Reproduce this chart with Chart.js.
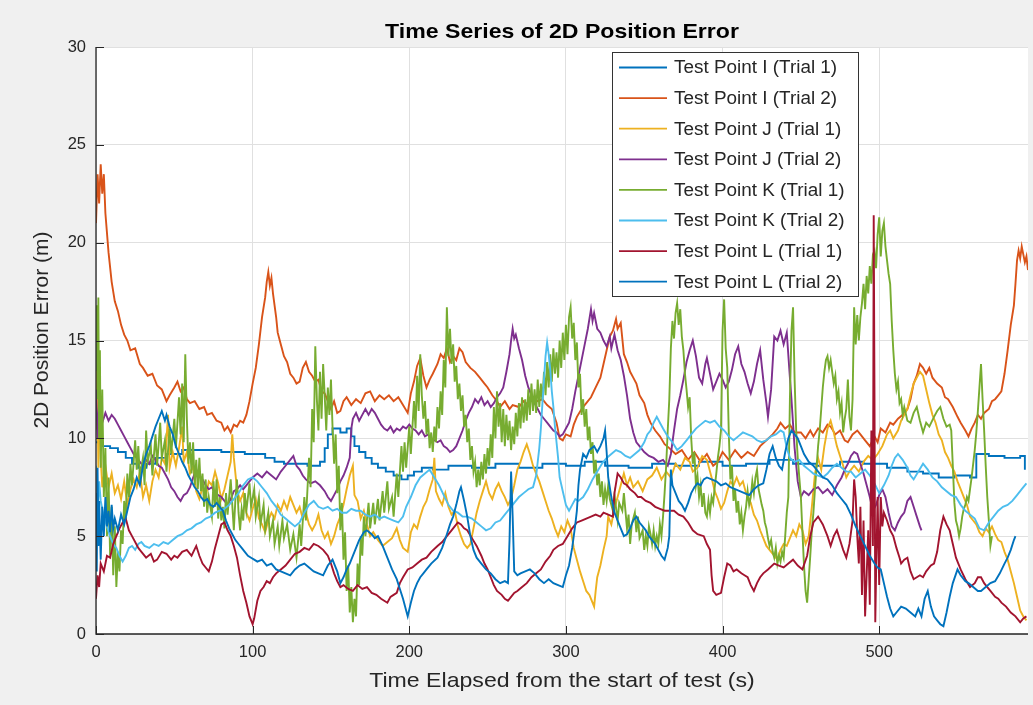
<!DOCTYPE html>
<html>
<head>
<meta charset="utf-8">
<script src="https://cdn.jsdelivr.net/npm/chart.js@4/dist/chart.umd.min.js"></script>
<style>
  html, body { margin: 0; padding: 0; background: #f0f0f0; }
  #wrap { width: 1033px; height: 705px; position: relative; }
  canvas { display: block; }
</style>
</head>
<body>
<div id="wrap"><canvas id="c" width="1033" height="705"></canvas></div>
<script>
// ---- series: [time (s), 2D position error (m)] ----
const pointI1 = [[0,9.8],[4,9.6],[9,9.5],[14,9.3],[19,9.0],[23,8.7],[27,8.5],[32,8.7],[38,9.0],[45,9.2],[55,9.4],[65,9.4],[80,9.3],[95,9.2],[108,9.0],[114,8.8],[120,8.7],[135,8.6],[143,8.8],[146,9.5],[148,10.2],[151,10.5],[156,10.3],[160,10.5],[163,10.1],[165,9.6],[168,9.3],[172,9.0],[176,8.7],[180,8.5],[185,8.3],[190,8.1],[195,7.9],[199,8.1],[203,8.3],[208,8.5],[215,8.4],[225,8.6],[240,8.5],[255,8.7],[270,8.5],[285,8.7],[300,8.6],[312,8.8],[325,8.6],[340,8.5],[355,8.7],[370,8.6],[385,8.8],[400,8.6],[415,8.7],[430,8.9],[445,8.7],[460,8.6],[475,8.8],[490,8.7],[505,8.5],[518,8.3],[528,8.2],[538,8.0],[548,8.1],[558,8.0],[562,9.2],[570,9.1],[580,9.0],[590,9.1],[593,8.4]];

const pointI2 = [[0,21.0],[1,23.5],[2,22.0],[3,24.0],[4,22.5],[5,23.5],[6,21.5],[8,19.5],[10,18.0],[12,17.0],[14,16.5],[16,15.8],[18,15.3],[20,15.0],[22,14.5],[25,14.6],[28,13.8],[30,13.6],[33,13.2],[36,13.3],[39,12.7],[42,12.5],[45,11.9],[47,12.2],[50,12.6],[52,12.9],[54,12.4],[56,12.6],[58,12.0],[60,11.8],[63,11.9],[66,11.5],[69,11.6],[71,11.2],[74,11.3],[77,10.9],[80,10.8],[82,10.4],[84,10.6],[86,10.3],[88,10.7],[90,10.6],[92,10.9],[94,10.8],[96,11.2],[98,11.9],[100,12.8],[102,13.6],[104,14.8],[106,16.2],[108,17.2],[109,18.0],[110,18.5],[111,17.8],[112,18.2],[113,17.4],[115,16.2],[116,15.4],[118,14.8],[120,14.2],[122,13.9],[124,13.3],[126,13.1],[128,12.8],[130,12.9],[132,13.6],[134,13.9],[136,13.4],[138,13.2],[140,12.9],[142,13.0],[144,12.4],[146,12.3],[148,11.9],[150,11.5],[152,11.9],[154,11.3],[156,11.4],[158,11.9],[160,12.1],[163,11.7],[166,12.0],[169,11.8],[172,12.3],[175,12.4],[178,11.9],[181,12.2],[184,12.0],[187,12.2],[190,11.9],[193,12.1],[196,11.7],[199,11.3],[201,12.3],[203,12.9],[205,13.7],[207,14.1],[209,13.2],[211,12.6],[213,13.0],[215,13.3],[218,13.8],[220,14.3],[222,14.1],[224,14.6],[226,13.9],[228,14.2],[230,14.0],[232,14.6],[234,14.4],[236,13.9],[239,13.6],[242,13.4],[245,13.1],[248,12.8],[250,12.6],[253,12.2],[256,11.9],[258,11.6],[261,11.9],[264,11.5],[266,11.7],[270,11.6],[273,11.9],[276,11.7],[279,12.1],[282,11.9],[285,12.0],[288,11.7],[291,11.5],[294,10.8],[296,10.0],[298,9.9],[300,10.2],[303,10.1],[305,10.7],[307,11.1],[310,11.5],[313,11.8],[316,12.1],[319,12.6],[322,13.1],[324,13.8],[326,14.5],[328,15.2],[330,15.5],[332,16.1],[333,15.6],[335,15.9],[337,14.3],[339,13.9],[341,13.4],[343,13.1],[345,12.8],[347,12.2],[350,11.8],[352,11.2],[354,10.8],[357,10.4],[360,10.1],[363,9.7],[366,9.5],[370,9.2],[374,9.4],[378,8.9],[382,9.3],[386,8.8],[390,9.2],[394,8.6],[397,8.8],[400,9.3],[404,8.9],[408,9.4],[412,9.0],[416,9.3],[420,9.1],[424,9.6],[428,9.9],[432,10.2],[435,10.5],[437,10.8],[440,10.5],[443,10.7],[446,10.3],[450,10.3],[453,10.0],[456,10.4],[458,10.1],[461,10.5],[464,10.3],[467,10.7],[469,10.6],[472,10.2],[475,10.4],[478,9.9],[480,9.8],[483,10.2],[486,10.4],[488,10.2],[491,9.9],[494,9.6],[497,10.1],[499,9.8],[501,10.5],[504,10.3],[507,10.8],[509,10.7],[512,11.0],[515,11.2],[518,11.5],[520,12.0],[522,12.8],[524,13.2],[526,13.8],[528,13.6],[530,13.3],[532,13.6],[534,13.1],[537,12.8],[540,12.6],[542,12.1],[544,12.0],[547,11.6],[550,11.1],[552,10.8],[555,10.4],[557,10.1],[559,10.5],[561,10.8],[563,11.2],[565,11.0],[567,11.3],[570,11.5],[572,11.9],[574,12.0],[576,12.2],[578,12.4],[580,13.3],[582,14.5],[584,15.8],[586,16.8],[587,17.9],[588,19.1],[589,19.6],[590,19.2],[591,19.8],[592,19.4],[593,19.0],[594,19.3],[595,18.6]];

const pointJ1 = [[0,10.5],[0.5,15.5],[1,12.0],[1.5,8.5],[2,13.5],[3,9.0],[4,7.5],[6,8.6],[8,7.5],[10,8.2],[12,7.2],[14,7.6],[16,6.9],[18,7.8],[20,6.6],[22,7.4],[24,7.9],[26,7.5],[28,8.3],[30,7.0],[32,7.6],[34,6.8],[36,7.8],[38,8.4],[40,8.0],[42,9.0],[44,8.7],[46,11.2],[47,8.5],[49,9.3],[51,8.6],[53,9.5],[55,10.6],[56,8.8],[58,9.3],[60,8.2],[62,8.6],[64,7.3],[66,6.9],[68,7.5],[70,7.0],[72,7.8],[74,7.6],[76,8.3],[78,7.7],[80,6.9],[82,7.4],[84,8.1],[86,8.8],[87,10.2],[88,9.0],[90,7.4],[92,6.8],[94,7.2],[96,6.2],[98,5.8],[100,6.4],[102,6.9],[104,5.9],[106,5.6],[108,5.2],[110,5.8],[112,6.2],[114,5.9],[116,6.6],[118,6.3],[120,6.8],[122,6.4],[124,7.0],[126,6.6],[128,6.2],[130,6.5],[132,5.9],[134,6.2],[136,5.6],[138,5.3],[140,5.6],[142,6.1],[144,5.3],[146,4.9],[148,5.2],[150,4.6],[152,5.0],[154,5.6],[156,6.0],[158,6.6],[160,7.4],[162,8.1],[164,8.6],[165,7.1],[167,6.8],[169,5.9],[171,6.3],[173,5.6],[175,5.0],[177,5.2],[180,4.8],[183,4.5],[186,4.7],[189,4.9],[192,5.4],[194,4.8],[196,4.4],[199,4.2],[201,5.2],[203,5.6],[205,5.4],[207,6.0],[209,6.5],[211,6.8],[213,7.4],[215,7.9],[216,9.0],[217,7.3],[219,6.9],[221,6.6],[223,7.2],[225,6.5],[227,6.1],[229,6.3],[231,5.5],[233,5.0],[235,4.6],[237,4.4],[239,4.6],[241,5.4],[243,6.2],[245,6.8],[247,7.3],[249,7.8],[251,7.2],[253,6.9],[255,7.4],[257,7.7],[259,7.3],[261,7.0],[263,6.6],[265,6.9],[267,7.6],[269,8.4],[271,8.8],[273,9.3],[275,9.7],[277,9.2],[279,8.6],[281,8.2],[283,7.8],[285,7.3],[287,6.8],[289,6.3],[291,5.9],[293,5.4],[295,5.0],[297,5.5],[299,5.2],[301,5.8],[303,5.4],[305,4.4],[307,3.8],[309,3.2],[311,2.7],[313,2.2],[315,2.0],[317,1.6],[318,1.4],[319,2.2],[320,2.9],[322,3.5],[324,4.3],[326,5.0],[327,6.0],[329,5.6],[331,6.4],[333,7.0],[335,7.6],[337,8.2],[339,7.6],[341,8.0],[343,7.5],[346,7.8],[349,7.3],[352,7.9],[355,8.1],[358,8.5],[361,7.9],[364,8.3],[367,8.0],[370,8.7],[373,8.4],[376,9.0],[379,8.8],[381,8.3],[384,8.5],[387,9.1],[390,8.9],[393,8.0],[395,7.3],[397,6.9],[399,6.4],[401,6.7],[403,7.3],[405,7.8],[407,7.6],[409,8.0],[411,7.6],[413,7.8],[415,7.2],[418,6.7],[420,6.1],[422,5.8],[424,5.3],[426,4.9],[428,4.5],[431,4.2],[433,4.0],[435,3.8],[437,4.3],[439,4.6],[441,4.5],[443,4.9],[445,5.3],[447,5.0],[449,5.6],[451,5.3],[453,4.6],[455,5.0],[457,6.5],[459,8.2],[461,9.0],[463,8.4],[465,9.6],[467,10.5],[469,10.9],[471,10.3],[473,9.6],[475,9.1],[477,8.6],[479,8.0],[481,8.3],[484,8.6],[487,8.3],[490,8.8],[493,9.1],[496,8.9],[499,9.2],[502,9.6],[505,10.2],[507,10.4],[509,10.0],[512,10.4],[514,10.9],[516,11.2],[518,11.5],[520,12.2],[522,12.8],[524,13.1],[526,13.4],[528,13.2],[530,12.5],[532,11.8],[534,11.2],[536,10.8],[538,10.2],[540,9.9],[542,9.3],[544,9.0],[546,8.6],[548,8.3],[550,7.8],[552,7.4],[554,7.0],[556,6.6],[558,6.0],[560,5.8],[562,5.6],[564,5.2],[566,5.0],[568,5.4],[570,5.2],[572,5.5],[574,5.1],[576,4.8],[578,4.7],[580,4.2],[582,3.8],[584,3.2],[586,2.6],[588,1.9],[590,1.2],[592,0.9],[594,0.7]];

const pointJ2 = [[0,12.5],[1,10.0],[2,11.8],[3,11.0],[4,10.8],[6,11.3],[8,10.9],[10,11.2],[12,11.0],[14,10.7],[16,10.4],[18,10.1],[20,9.8],[22,9.5],[24,9.2],[26,9.0],[28,8.8],[30,8.6],[32,8.9],[34,8.7],[36,9.1],[38,8.9],[40,8.6],[42,8.5],[44,8.2],[46,7.9],[48,7.5],[50,7.3],[52,7.0],[54,6.8],[56,7.1],[58,7.2],[60,7.5],[62,8.0],[64,8.4],[66,8.1],[68,7.9],[70,7.6],[72,7.4],[74,7.5],[76,7.2],[78,7.1],[80,7.0],[82,6.8],[84,6.6],[86,6.9],[88,7.3],[90,7.4],[92,7.6],[94,7.4],[96,7.6],[98,7.8],[100,8.0],[103,8.2],[106,8.0],[109,8.3],[112,8.1],[115,7.9],[118,8.3],[121,8.6],[124,8.9],[126,9.1],[128,8.6],[130,8.4],[132,8.1],[134,7.9],[137,7.7],[140,7.8],[143,7.6],[146,7.3],[148,7.0],[150,6.8],[152,7.1],[154,7.4],[156,7.8],[158,8.1],[160,8.5],[162,9.0],[163,10.5],[164,11.0],[166,11.3],[168,10.9],[170,11.2],[172,11.5],[174,11.2],[176,11.5],[178,11.3],[180,11.0],[182,10.7],[184,10.5],[186,10.4],[188,10.6],[190,10.3],[192,10.5],[194,10.4],[196,10.6],[198,10.5],[200,10.7],[202,10.5],[204,10.4],[206,10.2],[208,10.4],[210,10.1],[212,10.2],[214,10.0],[216,9.9],[218,9.8],[220,9.9],[222,9.6],[224,9.5],[226,9.3],[228,9.4],[230,9.6],[232,10.0],[234,10.4],[236,10.9],[238,11.3],[240,11.6],[242,12.0],[244,11.8],[246,12.1],[248,11.7],[250,11.9],[252,11.6],[254,11.8],[256,12.1],[258,12.3],[260,12.6],[262,13.4],[264,14.3],[265,15.0],[266,15.6],[267,15.1],[268,15.3],[270,14.6],[272,14.0],[274,13.2],[276,12.6],[278,12.2],[280,11.8],[282,11.5],[284,11.2],[286,11.0],[288,10.8],[290,10.6],[292,10.4],[294,10.3],[296,10.1],[298,10.2],[300,10.5],[302,10.8],[304,11.5],[306,12.4],[308,13.2],[310,14.0],[312,14.8],[314,15.6],[316,16.6],[317,16.0],[318,16.4],[320,15.6],[322,15.4],[324,15.0],[326,14.7],[328,15.2],[329,14.6],[331,15.3],[333,14.5],[335,14.0],[337,13.2],[339,12.2],[341,11.0],[343,10.3],[345,9.8],[347,9.6],[350,9.3],[353,9.1],[356,9.0],[359,8.8],[362,8.9],[365,8.6],[367,9.2],[369,10.4],[371,11.5],[373,12.2],[375,13.0],[377,13.9],[379,14.5],[381,15.0],[383,14.2],[385,13.1],[387,12.8],[389,13.8],[390,14.1],[392,13.3],[394,12.5],[396,12.9],[398,13.3],[400,13.0],[402,12.6],[404,12.9],[406,13.5],[408,14.3],[410,14.7],[412,13.8],[414,13.4],[416,12.8],[418,12.3],[420,12.9],[422,13.8],[424,14.5],[426,13.0],[428,11.8],[429,11.1],[431,12.5],[433,15.2],[435,15.0],[437,15.5],[439,14.8],[441,15.4],[443,13.1],[444,12.0],[446,9.5],[448,7.8],[450,7.0],[452,7.3],[455,7.1],[458,7.4],[461,7.5],[464,7.2],[467,7.4],[470,7.1],[473,7.6],[476,8.0],[478,8.4],[480,8.7],[482,9.1],[484,9.3],[486,9.2],[488,8.7],[490,8.2],[492,7.6],[494,7.0],[496,6.3],[498,6.6],[500,7.1],[502,7.4],[504,7.0],[506,6.2],[508,5.5],[510,5.3],[512,5.7],[514,6.0],[516,6.2],[518,6.8],[520,7.0],[522,6.5],[524,6.0],[526,5.5],[527,5.3]];

const pointK1 = [[0,13.5],[0.5,16.8],[1,12.0],[1.5,17.2],[2,10.0],[2.5,14.5],[3,8.5],[4,12.5],[5,7.0],[6,9.5],[7,5.0],[8,8.0],[9,4.0],[10,6.5],[11,3.0],[12,5.5],[13,2.4],[14,4.2],[15,3.2],[16,5.3],[17,4.6],[18,6.8],[19,5.8],[20,8.2],[21,7.0],[22,8.7],[23,7.6],[25,9.9],[26,8.4],[27,9.6],[28,8.0],[30,9.0],[31,7.6],[32,10.4],[33,8.8],[35,9.6],[36,8.1],[38,10.2],[39,8.6],[41,10.8],[42,9.0],[44,9.9],[45,8.3],[47,10.5],[48,9.2],[50,11.0],[51,9.5],[53,12.1],[54,10.2],[55,12.8],[56,9.8],[57,14.3],[58,11.0],[59,8.7],[60,9.8],[61,8.2],[62,9.8],[63,7.6],[64,8.9],[65,7.4],[66,9.0],[67,7.3],[68,8.2],[69,6.5],[70,7.9],[71,6.2],[72,7.0],[74,6.0],[75,7.8],[76,6.5],[77,7.9],[78,5.9],[79,7.0],[80,5.8],[81,6.5],[82,5.4],[83,7.2],[84,6.1],[86,7.9],[87,6.6],[88,5.3],[89,6.9],[90,7.9],[91,6.2],[92,5.3],[93,6.4],[94,5.8],[95,7.2],[96,6.3],[98,7.7],[99,6.5],[101,7.4],[102,6.0],[104,7.0],[105,5.6],[107,6.6],[108,5.3],[110,6.2],[111,5.0],[113,5.8],[114,4.6],[116,5.5],[117,4.5],[119,5.8],[120,4.9],[122,5.6],[124,4.3],[126,5.1],[128,3.9],[130,5.6],[131,4.5],[133,7.0],[134,5.8],[136,9.0],[137,7.5],[138,11.5],[139,9.8],[140,14.7],[141,12.0],[142,10.4],[143,13.4],[144,11.0],[145,13.8],[146,12.2],[147,10.4],[148,12.6],[149,11.2],[150,13.0],[151,10.6],[152,8.7],[153,10.2],[154,7.2],[155,8.6],[156,5.3],[157,6.7],[158,3.8],[159,5.2],[160,2.2],[161,3.5],[162,1.1],[163,2.4],[164,0.6],[165,1.8],[166,0.9],[167,3.6],[168,2.5],[169,5.0],[170,4.0],[171,6.0],[172,5.0],[174,6.7],[175,5.4],[177,6.7],[178,5.6],[180,6.9],[181,5.8],[183,7.3],[184,6.2],[186,7.8],[187,6.4],[189,7.0],[190,6.0],[192,8.2],[193,7.0],[195,9.6],[196,8.3],[197,9.8],[198,8.5],[200,10.6],[201,9.2],[203,11.9],[204,10.5],[205,13.2],[206,11.4],[207,14.3],[208,12.2],[209,11.0],[210,11.9],[211,10.2],[212,11.0],[213,9.5],[214,10.3],[215,9.3],[216,10.6],[217,9.8],[218,11.6],[219,10.5],[220,12.4],[221,11.2],[222,14.0],[223,12.6],[224,16.7],[225,14.2],[226,15.6],[227,13.8],[228,14.8],[229,12.9],[230,13.7],[231,12.0],[232,12.8],[233,11.4],[234,12.2],[235,10.6],[236,11.2],[237,9.8],[238,10.5],[239,8.9],[240,9.6],[241,8.3],[242,8.8],[243,7.5],[244,8.4],[245,7.6],[246,8.8],[247,7.9],[248,9.2],[249,8.2],[250,9.5],[251,8.6],[252,10.2],[253,9.0],[254,11.6],[255,10.0],[256,12.4],[257,10.6],[258,11.8],[259,9.8],[260,11.5],[261,9.6],[262,11.2],[263,9.9],[264,10.9],[265,9.4],[266,10.6],[267,9.7],[268,11.3],[269,10.1],[270,11.8],[271,10.5],[272,12.1],[273,10.8],[274,12.0],[275,10.9],[276,12.5],[277,11.2],[278,12.8],[279,11.4],[280,12.5],[281,11.3],[282,13.0],[283,11.6],[284,12.8],[285,11.9],[286,13.4],[287,12.2],[288,13.9],[289,12.6],[290,14.3],[291,12.9],[292,14.6],[293,13.3],[294,14.4],[295,13.1],[296,15.0],[297,13.6],[298,15.4],[299,14.0],[300,15.8],[301,14.3],[302,16.2],[303,16.7],[304,15.1],[305,15.9],[306,14.0],[307,14.9],[308,12.6],[309,13.3],[310,11.2],[311,12.0],[312,10.6],[313,11.5],[314,9.9],[315,10.6],[316,9.2],[317,9.8],[318,8.2],[319,8.9],[320,7.6],[321,8.2],[322,7.0],[323,7.8],[324,6.6],[325,7.4],[326,6.8],[327,7.6],[328,6.9],[330,6.3],[331,7.1],[333,5.8],[334,6.7],[336,6.3],[337,7.2],[339,5.4],[340,6.1],[341,4.6],[342,5.6],[344,6.2],[345,5.2],[346,6.0],[347,4.9],[349,5.3],[350,4.3],[351,5.0],[352,4.5],[353,5.5],[354,5.1],[355,4.6],[356,5.3],[357,4.5],[358,5.0],[359,4.6],[360,5.6],[361,5.0],[362,6.0],[363,7.2],[364,8.6],[365,10.4],[366,12.0],[367,14.6],[368,16.0],[369,15.1],[370,16.4],[371,16.9],[372,15.8],[373,16.6],[374,15.2],[375,14.5],[376,13.3],[377,12.5],[378,11.6],[379,12.1],[380,10.0],[381,8.7],[382,9.3],[383,7.6],[384,8.1],[385,7.0],[386,7.6],[387,6.5],[388,7.2],[389,6.2],[390,6.0],[391,6.8],[392,6.2],[393,7.0],[394,6.7],[395,7.5],[396,8.2],[397,9.0],[398,9.6],[399,10.4],[400,15.5],[401,17.1],[402,14.6],[403,13.6],[404,10.2],[405,7.9],[406,8.6],[407,6.8],[408,7.4],[409,6.2],[410,6.8],[411,5.6],[412,6.2],[413,5.3],[414,6.0],[415,6.5],[416,7.3],[417,6.6],[418,7.0],[419,7.8],[420,7.2],[421,8.0],[422,8.4],[423,7.4],[424,7.0],[425,6.6],[426,6.3],[427,5.7],[428,5.4],[429,4.9],[430,4.5],[431,4.8],[432,4.2],[433,3.9],[434,4.4],[435,3.6],[436,4.0],[437,3.7],[438,4.2],[439,3.9],[440,5.0],[441,6.2],[442,7.0],[443,12.0],[444,15.5],[445,16.7],[446,13.0],[447,10.4],[448,9.0],[449,8.0],[450,7.0],[451,5.2],[452,3.5],[453,2.2],[454,1.6],[455,2.8],[456,4.0],[457,5.3],[458,6.2],[459,7.4],[460,8.5],[461,9.6],[462,10.4],[463,11.5],[464,12.6],[465,13.4],[466,14.0],[467,14.2],[468,13.6],[469,14.0],[470,13.4],[471,12.8],[472,13.2],[473,12.0],[474,12.4],[475,11.3],[476,11.8],[477,10.3],[478,11.0],[479,11.5],[480,13.0],[481,11.1],[482,10.4],[483,12.0],[484,16.7],[485,14.8],[486,16.3],[487,15.0],[488,16.2],[489,16.9],[490,17.9],[491,16.6],[492,18.3],[493,17.4],[494,18.8],[495,17.9],[496,19.4],[497,19.6],[498,18.7],[499,20.4],[500,21.3],[501,19.3],[502,20.6],[503,21.0],[504,19.8],[505,19.1],[506,18.4],[507,17.9],[508,16.0],[509,14.5],[510,13.3],[511,12.5],[512,12.9],[513,11.8],[514,12.0],[515,11.2],[516,11.6],[518,10.9],[520,10.8],[522,11.3],[524,11.6],[526,10.9],[528,10.3],[530,10.8],[532,10.6],[535,11.1],[537,11.4],[539,11.6],[541,11.0],[543,10.6],[545,10.7],[546,10.4],[547,8.6],[548,6.7],[549,5.8],[550,5.5],[551,5.0],[552,5.4],[553,6.0],[554,6.4],[555,6.6],[556,7.0],[557,6.8],[558,7.4],[559,8.0],[560,8.7],[561,9.4],[562,10.3],[563,11.4],[564,12.6],[565,13.8],[566,12.0],[567,10.4],[568,8.6],[569,7.0],[570,5.8],[571,4.5],[572,5.0]];

const pointK2 = [[0,8.6],[1,6.2],[2,7.8],[3,6.8],[5,6.0],[7,5.5],[9,5.0],[11,4.6],[13,4.4],[15,4.0],[17,3.7],[19,4.0],[21,4.4],[23,4.5],[25,4.3],[27,4.6],[29,4.7],[31,4.5],[34,4.4],[37,4.6],[40,4.5],[43,4.7],[46,4.6],[49,4.8],[52,5.0],[55,5.1],[58,5.3],[61,5.4],[64,5.6],[67,5.7],[70,5.9],[73,6.0],[76,6.2],[79,6.3],[82,6.4],[85,6.6],[88,6.9],[91,7.2],[94,7.6],[97,7.9],[100,8.0],[103,7.8],[106,7.5],[109,7.2],[112,6.8],[115,6.5],[118,6.1],[121,5.9],[124,5.7],[127,5.5],[130,5.7],[133,6.2],[136,6.6],[139,6.8],[142,6.5],[145,6.4],[148,6.5],[151,6.3],[154,6.4],[157,6.2],[160,6.2],[163,6.4],[166,6.3],[169,6.3],[172,6.1],[175,6.0],[178,6.1],[181,5.9],[184,6.0],[187,5.9],[190,5.8],[193,5.7],[196,6.0],[198,6.5],[201,7.0],[204,7.6],[207,8.0],[210,8.2],[213,8.4],[216,8.0],[219,7.6],[222,7.1],[225,6.6],[228,6.3],[231,6.2],[234,6.0],[237,6.0],[240,5.9],[243,5.7],[246,5.5],[249,5.3],[252,5.4],[255,5.7],[258,5.8],[261,6.1],[264,6.4],[267,6.7],[270,7.0],[273,7.2],[276,7.4],[279,7.5],[281,8.1],[283,9.5],[284,10.5],[285,11.8],[286,13.0],[287,14.2],[288,14.9],[289,14.3],[290,13.5],[291,12.4],[292,11.6],[293,10.6],[294,9.8],[295,9.0],[296,8.0],[298,7.3],[300,6.6],[302,6.3],[304,6.6],[306,6.9],[308,6.8],[311,7.0],[314,7.4],[317,7.9],[320,8.3],[323,8.7],[326,9.0],[329,9.2],[332,9.4],[335,9.3],[338,9.1],[341,9.0],[344,9.2],[347,9.4],[350,9.8],[352,10.2],[354,10.4],[356,10.8],[358,11.1],[360,10.8],[362,10.5],[365,10.1],[368,9.8],[371,9.4],[374,9.6],[377,9.9],[380,10.2],[383,10.5],[386,10.7],[389,10.9],[392,10.8],[395,10.9],[398,10.6],[401,10.4],[404,10.1],[407,9.9],[410,10.1],[413,10.3],[416,10.2],[419,10.1],[422,9.9],[425,9.8],[428,9.9],[431,10.1],[434,10.2],[437,10.4],[439,10.3],[441,9.5],[443,9.0],[446,8.8],[449,8.9],[452,8.6],[455,8.4],[458,8.2],[461,8.1],[464,8.0],[467,8.2],[470,8.5],[473,8.7],[476,8.5],[479,8.3],[482,8.3],[485,8.0],[488,8.2],[491,8.4],[494,8.1],[497,7.7],[500,7.2],[503,7.6],[506,8.1],[508,8.6],[510,9.0],[512,9.2],[515,8.9],[518,8.5],[520,8.1],[522,7.9],[525,8.3],[528,8.7],[531,8.4],[534,8.0],[537,7.8],[540,7.5],[543,7.3],[546,7.1],[549,7.0],[552,6.6],[555,6.3],[558,6.1],[561,5.9],[564,5.4],[567,5.3],[570,5.7],[573,6.0],[576,6.3],[579,6.5],[582,6.6],[585,6.8],[588,7.1],[591,7.4],[594,7.7]];

const pointL1 = [[0,1.8],[1,3.0],[2,2.4],[3,3.6],[5,3.2],[7,4.0],[9,3.9],[11,4.6],[13,5.0],[15,5.4],[17,5.7],[19,5.9],[21,5.3],[23,5.0],[25,4.7],[27,4.4],[29,4.2],[32,3.9],[35,4.1],[37,3.7],[39,3.8],[42,4.2],[45,4.1],[48,3.8],[50,4.0],[52,3.9],[55,4.2],[58,4.3],[61,4.0],[64,4.5],[66,4.0],[68,3.6],[70,3.4],[72,3.2],[74,3.7],[76,4.4],[78,5.0],[80,5.6],[82,5.7],[84,5.3],[86,5.0],[88,4.5],[90,3.9],[92,3.0],[94,2.2],[96,1.6],[98,0.9],[100,0.5],[101,0.8],[103,1.7],[105,2.2],[107,2.4],[109,2.7],[111,2.6],[113,2.9],[115,3.1],[118,3.3],[121,3.5],[124,3.8],[127,4.1],[130,4.2],[133,4.4],[136,4.3],[139,4.6],[142,4.5],[145,4.3],[148,4.0],[150,3.6],[152,3.1],[154,2.7],[156,2.4],[158,2.5],[161,2.3],[164,2.2],[167,2.5],[170,2.3],[173,2.4],[176,2.1],[179,2.0],[182,1.8],[184,1.7],[186,1.6],[188,1.9],[190,2.0],[192,2.1],[194,2.6],[196,2.9],[199,3.3],[202,3.4],[205,3.6],[208,3.8],[211,3.9],[214,4.2],[218,4.5],[221,4.7],[224,5.0],[227,5.3],[229,5.5],[231,5.7],[233,5.6],[235,5.4],[237,5.3],[240,4.9],[243,4.5],[246,4.0],[248,3.6],[250,3.3],[252,2.9],[254,2.5],[256,2.2],[259,2.0],[261,1.8],[263,1.7],[265,1.9],[267,2.1],[269,2.2],[272,2.4],[275,2.6],[278,2.9],[281,3.1],[284,3.3],[287,3.7],[290,4.0],[292,4.3],[295,4.5],[298,4.6],[301,5.0],[304,5.4],[307,5.7],[310,5.8],[313,5.9],[316,6.0],[319,6.1],[322,6.0],[324,6.2],[327,6.1],[330,6.0],[331,7.2],[333,8.2],[335,8.0],[337,7.7],[339,7.6],[341,7.4],[344,7.2],[346,7.0],[348,7.0],[351,6.8],[354,6.7],[357,6.5],[360,6.4],[363,6.3],[366,6.3],[369,6.3],[372,6.1],[375,6.0],[378,5.7],[381,5.3],[384,5.1],[388,5.0],[390,4.6],[392,4.3],[393,3.0],[394,2.2],[396,2.0],[399,2.1],[401,2.9],[403,3.6],[405,3.5],[407,3.2],[409,3.3],[412,3.1],[414,3.0],[416,2.9],[418,2.5],[420,2.2],[422,2.6],[424,2.9],[426,3.1],[429,3.3],[433,3.6],[436,3.5],[439,3.4],[442,3.6],[445,3.8],[448,3.5],[451,3.3],[454,4.0],[456,5.0],[458,5.7],[461,6.0],[464,5.6],[467,5.0],[469,4.5],[471,5.0],[473,5.3],[475,4.8],[477,4.3],[479,3.9],[481,4.6],[483,5.8],[484,7.9],[485,7.0],[486,5.0],[487,3.6],[488,6.5],[489,2.0],[490,5.8],[491,0.9],[492,3.0],[493,5.3],[494,1.5],[495,10.4],[496,4.5],[496.5,21.4],[497,12.0],[497.5,0.6],[498,3.0],[499,7.0],[500,2.5],[501,7.0],[502,5.5],[503,6.2],[505,5.8],[507,5.3],[509,5.0],[511,4.4],[513,3.9],[514,3.6],[516,3.8],[518,3.9],[520,3.2],[522,2.8],[524,2.9],[526,3.0],[528,2.9],[530,3.2],[533,3.5],[535,3.6],[537,4.2],[539,5.3],[541,6.0],[543,5.6],[545,5.3],[547,4.6],[549,3.9],[552,3.3],[555,2.8],[558,2.4],[561,2.6],[563,2.9],[565,2.9],[567,2.6],[569,2.4],[571,2.2],[574,1.9],[576,1.8],[578,1.6],[581,1.4],[584,1.1],[587,0.9],[590,0.6],[592,0.8],[594,0.9]];

const pointL2 = [[0,7.2],[0.5,3.2],[1,8.5],[1.5,4.5],[2,6.8],[3,3.8],[4,6.5],[5,5.0],[6,7.0],[7,5.5],[8,6.3],[9,5.2],[10,6.6],[11,5.4],[12,5.9],[14,5.3],[16,6.1],[18,5.6],[20,6.3],[22,7.0],[24,7.4],[26,8.0],[28,7.6],[30,8.6],[32,9.2],[34,9.6],[36,10.1],[38,10.6],[40,11.0],[42,11.4],[44,10.9],[45,11.2],[47,10.6],[49,10.2],[51,9.6],[53,9.2],[55,8.8],[57,8.5],[59,8.1],[61,7.8],[63,7.5],[65,7.3],[67,7.0],[69,6.8],[71,6.9],[73,6.6],[75,6.5],[77,6.7],[79,6.5],[81,6.3],[83,5.8],[85,5.4],[87,5.1],[89,4.8],[91,4.6],[93,4.4],[95,4.2],[97,4.0],[99,3.9],[101,3.8],[103,3.7],[106,3.8],[109,3.5],[112,3.6],[115,3.3],[118,3.2],[121,3.1],[124,3.0],[127,3.3],[130,3.5],[133,3.6],[136,3.4],[139,3.2],[142,3.1],[145,3.0],[148,3.5],[151,3.8],[154,3.2],[156,2.6],[158,2.9],[160,3.3],[162,3.6],[165,4.2],[168,4.8],[171,5.2],[173,5.3],[176,5.1],[178,4.9],[180,5.0],[183,4.5],[186,3.9],[189,3.3],[192,2.8],[194,2.3],[196,1.8],[198,1.2],[199,0.9],[201,1.6],[203,2.2],[205,2.6],[207,2.9],[209,3.1],[211,3.3],[214,3.6],[218,3.9],[221,4.4],[224,5.1],[226,5.6],[228,6.0],[230,6.6],[232,7.3],[233,7.5],[235,6.8],[237,6.0],[239,5.0],[241,4.3],[243,3.9],[246,3.6],[249,3.3],[252,3.1],[255,2.8],[258,2.6],[261,2.7],[263,2.6],[264,4.8],[265,8.3],[266,6.0],[267,3.2],[269,3.0],[271,3.1],[274,3.2],[277,3.3],[280,3.1],[283,2.8],[286,2.6],[289,2.8],[292,2.6],[295,2.5],[298,2.4],[300,3.0],[302,3.5],[304,4.4],[306,5.6],[307,6.3],[308,7.6],[309,8.4],[311,9.2],[313,9.0],[315,9.4],[318,9.6],[320,9.3],[322,9.6],[324,10.0],[325,10.4],[326,9.3],[327,8.0],[329,7.0],[331,6.2],[333,5.8],[335,5.4],[337,5.0],[339,5.1],[341,5.4],[343,5.8],[345,6.0],[347,5.7],[349,5.5],[351,5.3],[353,5.0],[355,4.8],[357,4.6],[359,4.3],[361,4.0],[363,3.8],[365,4.4],[366,5.0],[367,8.4],[368,7.6],[370,7.2],[372,6.8],[374,6.6],[376,6.3],[378,6.7],[380,7.2],[382,7.5],[384,7.7],[386,7.6],[388,7.9],[390,8.0],[393,7.9],[396,7.8],[399,7.6],[402,7.7],[405,7.5],[408,7.4],[411,7.3],[414,7.2],[417,7.1],[420,7.4],[423,7.6],[426,7.7],[428,8.4],[430,9.2],[432,9.6],[434,9.0],[436,8.6],[438,8.4],[440,9.3],[442,10.0],[444,10.4],[446,10.2],[448,10.0],[450,9.6],[452,9.2],[455,8.8],[458,8.6],[461,8.3],[464,8.0],[467,7.9],[470,7.6],[473,7.2],[476,6.9],[479,6.6],[482,6.1],[485,5.5],[488,5.0],[491,4.5],[494,4.0],[497,3.6],[499,3.4],[501,3.3],[503,2.6],[505,1.9],[507,1.3],[509,0.9],[511,1.1],[514,1.4],[517,1.3],[520,1.1],[523,0.9],[525,1.3],[527,0.9],[529,1.8],[531,2.2],[533,1.4],[535,0.9],[537,0.7],[539,0.5],[541,0.4],[543,1.1],[545,1.9],[547,2.6],[550,3.3],[552,3.0],[555,2.7],[557,2.6],[560,2.4],[563,2.2],[565,2.2],[568,2.4],[571,2.6],[574,2.7],[577,3.1],[580,3.6],[582,3.9],[584,4.3],[586,4.8],[587,5.0]];

const seriesLabels = ['Test Point I (Trial 1)', 'Test Point I (Trial 2)', 'Test Point J (Trial 1)', 'Test Point J (Trial 2)',
                      'Test Point K (Trial 1)', 'Test Point K (Trial 2)', 'Test Point L (Trial 1)', 'Test Point L (Trial 2)'];
const seriesData = [pointI1, pointI2, pointJ1, pointJ2, pointK1, pointK2, pointL1, pointL2];
const seriesColors = ['#0072BD', '#D95319', '#EDB120', '#7E2F8E', '#77AC30', '#4DBEEE', '#A2142F', '#0072BD'];
const xTicks = [0, 100, 200, 300, 400, 500];
const yTicks = [0, 5, 10, 15, 20, 25, 30];

const FONT = '"Liberation Sans", Arial, Helvetica, sans-serif';
const INK = '#262626';

function stretchText(ctx, text, x, y, sx) {
  ctx.save();
  ctx.translate(x, y);
  ctx.scale(sx, 1);
  ctx.fillText(text, 0, 0);
  ctx.restore();
}

// figure background + white axes area
const backdrop = {
  id: 'backdrop',
  beforeDraw(chart) {
    const { ctx, chartArea: a } = chart;
    ctx.save();
    ctx.fillStyle = '#f0f0f0';
    ctx.fillRect(0, 0, chart.width, chart.height);
    ctx.fillStyle = '#ffffff';
    ctx.fillRect(a.left, a.top, a.right - a.left, a.bottom - a.top);
    ctx.restore();
  }
};

// axis lines, inward ticks, legend box, title and axis labels
const decor = {
  id: 'decor',
  afterDatasetsDraw(chart) {
    const { ctx, chartArea: a, scales } = chart;
    ctx.save();
    ctx.strokeStyle = INK;
    ctx.lineWidth = 1.3;
    ctx.beginPath();
    ctx.moveTo(a.left, a.top); ctx.lineTo(a.left, a.bottom); ctx.lineTo(a.right, a.bottom);
    ctx.stroke();
    ctx.lineWidth = 1;
    ctx.beginPath();
    yTicks.forEach(v => { const y = Math.round(scales.y.getPixelForValue(v)) + 0.5; ctx.moveTo(a.left, y); ctx.lineTo(a.left + 8, y); });
    xTicks.forEach(v => { const x = Math.round(scales.x.getPixelForValue(v)) + 0.5; ctx.moveTo(x, a.bottom); ctx.lineTo(x, a.bottom - 8); });
    ctx.stroke();

    // legend
    const lx = 612.5, ly = 52.5, lw = 246, lh = 244;
    ctx.fillStyle = '#ffffff';
    ctx.fillRect(lx, ly, lw, lh);
    ctx.strokeStyle = '#333333';
    ctx.lineWidth = 1;
    ctx.strokeRect(lx, ly, lw, lh);
    ctx.font = '17.5px ' + FONT;
    ctx.textBaseline = 'middle';
    ctx.textAlign = 'left';
    seriesLabels.forEach((lab, i) => {
      const y = 67.5 + i * 30.6;
      ctx.strokeStyle = seriesColors[i];
      ctx.lineWidth = 1.8;
      ctx.beginPath(); ctx.moveTo(619, y); ctx.lineTo(667, y); ctx.stroke();
      ctx.fillStyle = INK;
      stretchText(ctx, lab, 674, y + 1, 1.08);
    });

    // title and axis labels
    ctx.fillStyle = '#000000';
    ctx.textAlign = 'center';
    ctx.font = 'bold 21px ' + FONT;
    stretchText(ctx, 'Time Series of 2D Position Error', 562, 32, 1.1);
    ctx.fillStyle = INK;
    ctx.font = '21px ' + FONT;
    stretchText(ctx, 'Time Elapsed from the start of test (s)', 562, 681, 1.1);
    ctx.save();
    ctx.translate(42, 330);
    ctx.rotate(-Math.PI / 2);
    ctx.font = '21px ' + FONT;
    ctx.fillText('2D Position Error (m)', 0, 0);
    ctx.restore();
    ctx.restore();
  }
};

const datasets = seriesData.map((pts, i) => ({
  label: seriesLabels[i],
  data: pts.map(p => ({ x: p[0], y: p[1] })),
  borderColor: seriesColors[i],
  backgroundColor: seriesColors[i],
  borderWidth: 1.9,
  pointRadius: 0,
  tension: 0,
  fill: false,
  stepped: i === 0,
  order: 7 - i
}));

new Chart(document.getElementById('c'), {
  type: 'line',
  data: { datasets },
  options: {
    responsive: false,
    animation: false,
    devicePixelRatio: 1,
    parsing: false,
    layout: { padding: { top: 47, right: 5, left: 0, bottom: 0 } },
    plugins: { legend: { display: false }, title: { display: false }, tooltip: { enabled: false } },
    scales: {
      x: {
        type: 'linear', min: 0, max: 595,
        grid: { color: '#e0e0e0', lineWidth: 1, drawTicks: false },
        border: { display: false },
        ticks: { padding: 9, color: INK, font: { family: FONT, size: 16.5 }, maxRotation: 0, autoSkip: false },
        afterBuildTicks(s) { s.ticks = xTicks.map(v => ({ value: v })); },
        afterFit(s) { s.height = 71; s.paddingRight = 0; s.paddingLeft = 0; }
      },
      y: {
        type: 'linear', min: 0, max: 30,
        grid: { color: '#e0e0e0', lineWidth: 1, drawTicks: false },
        border: { display: false },
        ticks: { padding: 10, color: INK, font: { family: FONT, size: 16.5 }, autoSkip: false },
        afterBuildTicks(s) { s.ticks = yTicks.map(v => ({ value: v })); },
        afterFit(s) { s.width = 96; s.paddingTop = 0; s.paddingBottom = 0; }
      }
    }
  },
  plugins: [backdrop, decor]
});
</script>
</body>
</html>
